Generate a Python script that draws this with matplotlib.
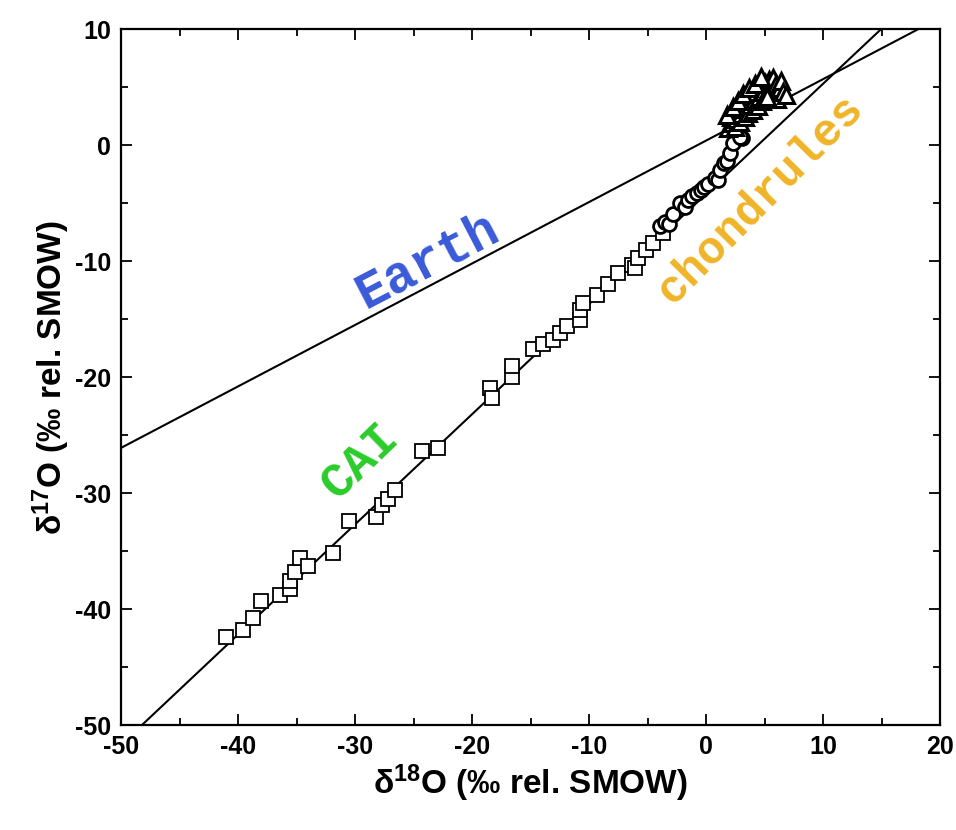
import matplotlib.pyplot as plt
import numpy as np

plt.rcParams['font.family'] = ['Liberation Sans', 'DejaVu Sans']
plt.rcParams['font.weight'] = 'bold'
plt.rcParams['axes.unicode_minus'] = False
plt.rcParams['mathtext.fontset'] = 'custom'
plt.rcParams['mathtext.rm'] = 'Liberation Sans:bold'
plt.rcParams['mathtext.default'] = 'rm'

# fractionation lines: (slope, intercept)
earth_line = (0.53, 0.4)
ccam_line = (0.95, -4.2)

# CAI measurements (squares)
cai_x = [-41.0, -39.6, -38.7, -38.0, -36.4, -35.6, -35.6, -35.1, -34.7, -34.0,
         -31.9, -30.5, -28.2, -27.7, -27.2, -26.6, -24.3, -22.9, -18.5, -18.3,
         -16.6, -16.6, -14.8, -13.9, -13.1, -12.5, -11.9, -10.8, -10.8, -10.5,
         -9.3, -8.35, -7.5, -6.35, -6.1, -5.8, -5.1, -4.5, -3.65]
cai_y = [-42.4, -41.8, -40.8, -39.3, -38.8, -38.3, -37.6, -36.8, -35.6, -36.3,
         -35.2, -32.4, -32.1, -31.0, -30.5, -29.7, -26.4, -26.1, -20.9, -21.8,
         -20.0, -19.0, -17.6, -17.1, -16.8, -16.2, -15.6, -15.1, -14.2, -13.6,
         -12.9, -12.0, -11.0, -10.3, -10.6, -9.7, -9.0, -8.4, -7.6]

# chondrule measurements (circles)
chon_x = [-3.9, -3.5, -3.2, -2.8, -2.2, -1.8, -1.5, -1.2, -0.8, -0.4,
          -0.2, 0.2, 0.8, 1.05, 1.2, 1.5, 1.8, 2.05, 2.3, 2.8, 3.05, 2.9]
chon_y = [-7.0, -6.6, -6.8, -5.9, -5.0, -5.3, -4.7, -4.4, -4.1, -3.85,
          -3.6, -3.3, -2.85, -3.0, -2.1, -1.55, -1.4, -0.7, 0.2, 1.2, 0.6, 0.74]

# chondrule cluster (triangles)
tri_x = [1.9, 2.1, 2.2, 2.4, 2.5, 2.6, 2.8, 2.9, 3.0, 3.1, 3.3, 3.4, 3.5,
         3.6, 3.8, 3.9, 4.0, 4.1, 4.3, 4.4, 4.5, 4.6, 4.8, 4.9, 5.0, 5.1,
         5.3, 5.4, 5.5, 5.6, 5.7, 5.9, 6.0, 6.1, 6.3, 6.4, 6.6, 6.8,
         1.8, 2.3, 2.7, 3.2, 3.7, 4.2, 4.7, 5.2]
tri_y = [1.5, 2.4, 1.9, 2.8, 1.6, 2.3, 3.2, 2.0, 2.7, 3.6, 2.4, 3.1, 4.0,
         2.8, 3.5, 4.3, 3.0, 3.9, 4.6, 3.4, 4.2, 5.0, 3.8, 4.6, 5.4, 4.0,
         4.8, 5.6, 4.3, 5.1, 5.8, 4.5, 5.3, 4.0, 4.9, 5.5, 4.6, 4.3,
         2.6, 3.3, 3.8, 4.4, 4.9, 5.3, 5.9, 4.2]

fig = plt.figure(figsize=(9.56, 8.3), dpi=100)
ax = fig.add_axes([0.1266, 0.1265, 0.8567, 0.8382])

xx = np.array([-50, 20])
ax.plot(xx, earth_line[0] * xx + earth_line[1], color='black', lw=1.5, zorder=2)
ax.plot(xx, ccam_line[0] * xx + ccam_line[1], color='black', lw=1.5, zorder=2)

ax.plot(cai_x, cai_y, 's', ms=9.5, mfc='white', mec='black', mew=1.3, zorder=3)
ax.plot(chon_x, chon_y, 'o', ms=10, mfc='white', mec='black', mew=2.0, zorder=3)
ax.plot(tri_x, tri_y, '^', ms=11, mfc='white', mec='black', mew=2.2, zorder=4)

mono = ['Liberation Mono', 'DejaVu Sans Mono']
ax.text(-23.8, -10.0, 'Earth', color='#3a5ad8', fontsize=37, family=mono,
        fontweight='bold', rotation=27.5, ha='center', va='center')
ax.text(4.6, -4.7, 'chondrules', color='#f0b429', fontsize=33, family=mono,
        fontweight='bold', rotation=45.5, ha='center', va='center')
ax.text(-29.6, -27.3, 'CAI', color='#2bcc2b', fontsize=35, family=mono,
        fontweight='bold', rotation=44, ha='center', va='center')

ax.set_xlim(-50, 20)
ax.set_ylim(-50, 10)
ax.set_xticks(np.arange(-50, 21, 10))
ax.set_yticks(np.arange(-50, 11, 10))
ax.set_xticks(np.arange(-45, 20, 10), minor=True)
ax.set_yticks(np.arange(-45, 10, 10), minor=True)
ax.tick_params(which='both', direction='in', top=True, right=True,
               labelsize=18, width=1.3)
ax.tick_params(which='major', length=8, pad=7)
ax.tick_params(which='minor', length=5)
for s in ax.spines.values():
    s.set_linewidth(1.6)

ax.set_xlabel('δ$^{18}$O (‰ rel. SMOW)', fontsize=24, fontweight='bold', labelpad=3)
ax.set_ylabel('δ$^{17}$O (‰ rel. SMOW)', fontsize=24, fontweight='bold', labelpad=2)

fig.savefig('out.png', dpi=100)
